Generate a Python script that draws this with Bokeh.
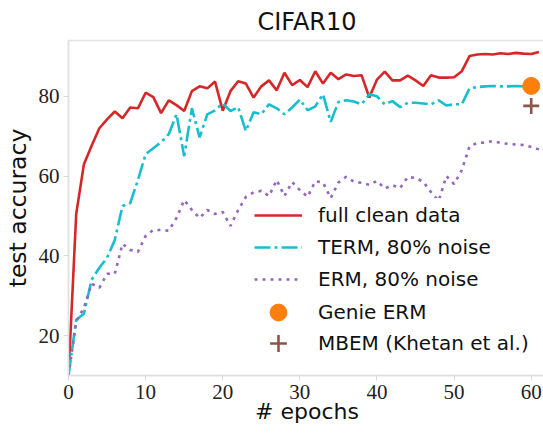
from bokeh.plotting import figure
from bokeh.models import Range1d, Legend, LegendItem, FixedTicker, ColumnDataSource
from bokeh.embed import file_html
from bokeh.resources import INLINE

epochs = list(range(62))
clean = [10, 50.5, 63, 67.6, 72, 74.2, 76.2, 74.5, 77.2, 77, 80.9, 79.8, 75.8, 79, 77.8, 76.3,
         81.3, 82.5, 82, 83.7, 76.4, 81.3, 83.8, 83.2, 79.7, 82.5, 84, 81.5, 85.9, 82.8, 84.1,
         82.3, 86.3, 83.2, 85.9, 84.3, 85.5, 85.1, 85.3, 79.7, 84.2, 86.2, 84, 84, 85.2, 84,
         82.6, 85.3, 84.7, 84.7, 84.8, 86.3, 90.1, 90.5, 90.6, 90.5, 90.8, 90.6, 90.9, 90.7,
         90.6, 91.1]
term = [10, 24, 25.5, 34, 37, 39.5, 44, 52.5, 53.2, 59, 65.5, 67, 68.5, 70.5, 75.5, 65, 77,
        69.7, 75.5, 76.5, 78.2, 76.3, 77.3, 71.3, 76, 75.5, 78, 77, 75.5, 77.2, 79.2, 76.5,
        77.5, 80.5, 73.6, 78.6, 79, 78.7, 78, 80.5, 80, 78, 78.8, 77.3, 78.4, 78.4, 78.2, 78,
        79, 77.7, 78, 78, 82, 82.3, 82.5, 82.6, 82.5, 82.5, 82.6, 82.5, 82.6, 82.5]
erm = [10, 23.5, 27, 33, 32, 35.5, 35.5, 43, 41.5, 41, 45, 46.5, 46.5, 46.3, 49.5, 54, 51.5,
       49.5, 51.5, 50.5, 51, 47.5, 51.5, 54.8, 55.9, 56.3, 55, 59, 55, 58.5, 56.5, 54.8, 58.7,
       58.4, 54.5, 58.4, 59.8, 58.6, 58.3, 57.8, 58.8, 56.9, 57.7, 57, 59.8, 59.5, 58.6, 56,
       53.8, 60, 58, 61.5, 67.5, 68.3, 68.4, 68.8, 68.3, 68.1, 67.9, 67.8, 67.3, 66.7]
genie_x = [60]
genie_y = [82.6]
mbem_x = [60]
mbem_y = [77.6]
x_ticks = [0, 10, 20, 30, 40, 50, 60]
y_ticks = [20, 40, 60, 80]

SANS = "DejaVu Sans"
SERIF = "Liberation Serif"

p = figure(frame_width=477, frame_height=335, x_range=Range1d(0, 61.85),
           y_range=Range1d(10, 94), output_backend="svg", toolbar_location=None,
           title="CIFAR10",
           min_border_left=66, min_border_right=0, min_border_top=40, min_border_bottom=59)

p.title.align = "center"
p.title.text_font = SANS
p.title.text_font_size = "24px"
p.title.text_font_style = "normal"
p.title.text_color = "#111111"
p.title.standoff = 9

p.outline_line_color = "#e3e3e3"
p.outline_line_width = 1.5
p.xgrid.visible = False
p.ygrid.visible = False

for ax in (p.xaxis[0], p.yaxis[0]):
    ax.axis_line_color = "#e0e0e0"
    ax.axis_line_width = 1.5
    ax.major_tick_line_color = "#d8d8d8"
    ax.major_tick_line_width = 1
    ax.major_tick_out = 5
    ax.major_tick_in = 0
    ax.minor_tick_line_color = None
    ax.major_label_text_font = SERIF
    ax.major_label_text_font_size = "21px"
    ax.major_label_text_color = "#222222"
    ax.major_label_standoff = 4
    ax.axis_label_text_font = SANS
    ax.axis_label_text_font_style = "normal"
    ax.axis_label_text_color = "#111111"

p.xaxis.ticker = FixedTicker(ticks=x_ticks)
p.yaxis.ticker = FixedTicker(ticks=y_ticks)
p.xaxis.axis_label = "# epochs"
p.yaxis.axis_label = "test accuracy"
p.xaxis.axis_label_text_font_size = "22px"
p.yaxis.axis_label_text_font_size = "23.5px"
p.xaxis.axis_label_standoff = -3
p.yaxis.axis_label_standoff = 4

src = ColumnDataSource(dict(e=epochs, clean=clean, term=term, erm=erm))
r_clean = p.line("e", "clean", source=src, line_color="#d62728", line_width=2.6)
r_term = p.line("e", "term", source=src, line_color="#17becf", line_width=2.6,
                line_dash="16 4 3 4")
r_erm = p.line("e", "erm", source=src, line_color="#9467bd", line_width=2.6,
               line_dash="3 5")
r_genie = p.scatter(genie_x, genie_y, size=17, marker="circle", fill_color="#ff7f0e",
                    line_color="#ff7f0e")
r_mbem = p.scatter(mbem_x, mbem_y, size=16, marker="cross", line_color="#8c564b",
                   line_width=2.6)


def style(lg, gh, bg_alpha):
    lg.label_text_font = SANS
    lg.label_text_font_size = "20px"
    lg.label_text_color = "#111111"
    lg.glyph_width = 48
    lg.glyph_height = gh
    lg.label_height = 24
    lg.spacing = 8
    lg.padding = 5
    lg.margin = 0
    lg.label_standoff = 16
    lg.border_line_alpha = 0
    lg.background_fill_color = "white"
    lg.background_fill_alpha = bg_alpha


leg_lines = Legend(items=[
    LegendItem(label="full clean data", renderers=[r_clean]),
    LegendItem(label="TERM, 80% noise", renderers=[r_term]),
    LegendItem(label="ERM, 80% noise", renderers=[r_erm]),
], location=(181, 79))
style(leg_lines, 24, 0.85)

leg_genie = Legend(items=[LegendItem(label="Genie ERM", renderers=[r_genie])],
                   location=(181, 37))
style(leg_genie, 42, 0)

leg_mbem = Legend(items=[LegendItem(label="MBEM (Khetan et al.)", renderers=[r_mbem])],
                  location=(181, 6))
style(leg_mbem, 42, 0)

p.add_layout(leg_mbem)
p.add_layout(leg_genie)
p.add_layout(leg_lines)

open("out.html", "w").write(file_html(p, INLINE))
